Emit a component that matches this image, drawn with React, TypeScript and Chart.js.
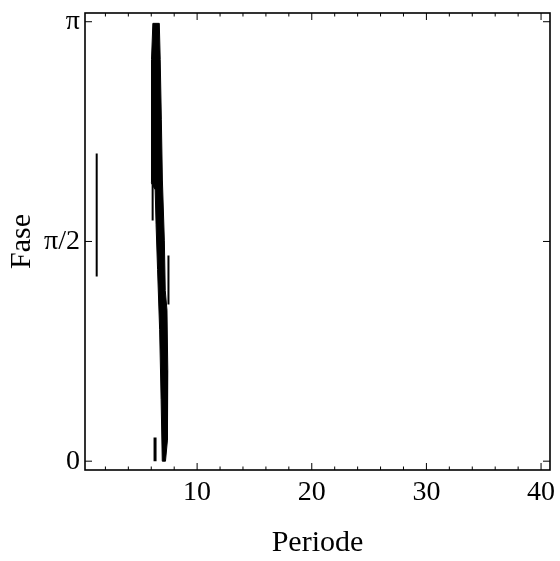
import { useEffect, useRef } from "react";
import { Chart, registerables } from "chart.js";

Chart.register(...registerables);

// Axis ranges and ticks
const periodMin = 0.22;
const periodMax = 40.78;
const phaseMin = -0.063;
const phaseMax = 3.204;
const periodTicks = [10, 20, 30, 40];
const periodMinorStep = 2;
const phaseTicks = [0, Math.PI / 2, Math.PI];
const phaseTickLabels = ["0", "π/2", "π"];

// Main band outline: right edge going down, then left edge going back up
const bandPeriod = [6.14, 6.70, 6.78, 6.88, 6.97, 7.14, 7.22, 7.37, 7.44, 7.41, 7.24, 6.96, 6.86, 6.73, 6.55, 6.42, 6.34, 6.00, 5.98, 6.06, 6.14];
const bandPhase = [3.13, 3.13, 2.87, 2.44, 2.01, 1.58, 1.22, 1.08, 0.65, 0.15, 0.0, 0.0, 0.44, 0.94, 1.37, 1.69, 1.94, 1.99, 2.44, 2.87, 3.13];

// Thin branches
const branchLeftPeriod = [6.12, 6.12];
const branchLeftPhase = [1.98, 1.72];
const branchRightPeriod = [7.5, 7.5];
const branchRightPhase = [1.47, 1.12];
const branchLowPeriod = [6.33, 6.33];
const branchLowPhase = [0.17, 0.0];
const shortPeriod = [1.24, 1.24];
const shortPhase = [2.2, 1.32];

const toPoints = (xs: number[], ys: number[]) => xs.map((x, i) => ({ x, y: ys[i] }));

const FONT = "'Liberation Serif', 'Times New Roman', serif";

const framePlugin = {
  id: "frameTicks",
  afterDatasetsDraw(chart: any) {
    const { ctx, chartArea } = chart;
    const xs = chart.scales.x;
    const ys = chart.scales.y;
    const { left, right, top, bottom } = chartArea;
    ctx.save();
    ctx.strokeStyle = "#000";
    ctx.lineWidth = 1.6;
    ctx.strokeRect(left, top, right - left, bottom - top);
    ctx.lineWidth = 1;
    ctx.beginPath();
    for (let v = periodMinorStep; v < periodMax; v += periodMinorStep) {
      const px = xs.getPixelForValue(v);
      const len = periodTicks.includes(v) ? 7 : 3.5;
      ctx.moveTo(px, bottom);
      ctx.lineTo(px, bottom - len);
      ctx.moveTo(px, top);
      ctx.lineTo(px, top + len);
    }
    for (const v of phaseTicks) {
      const py = ys.getPixelForValue(v);
      ctx.moveTo(left, py);
      ctx.lineTo(left + 7, py);
      ctx.moveTo(right, py);
      ctx.lineTo(right - 7, py);
    }
    ctx.stroke();
    ctx.restore();
  },
};

export default function App() {
  const canvasRef = useRef<HTMLCanvasElement | null>(null);

  useEffect(() => {
    if (!canvasRef.current) return;
    const lineSet = (data: { x: number; y: number }[], width: number) => ({
      data,
      showLine: true,
      borderColor: "#000",
      borderWidth: width,
      pointRadius: 0,
      fill: false,
    });
    const chart = new Chart(canvasRef.current, {
      type: "scatter",
      data: {
        datasets: [
          {
            data: toPoints(bandPeriod, bandPhase),
            showLine: true,
            borderColor: "#000",
            backgroundColor: "#000",
            borderWidth: 1,
            pointRadius: 0,
            fill: "shape",
          } as any,
          lineSet(toPoints(branchLeftPeriod, branchLeftPhase), 2),
          lineSet(toPoints(branchRightPeriod, branchRightPhase), 2),
          lineSet(toPoints(branchLowPeriod, branchLowPhase), 3),
          lineSet(toPoints(shortPeriod, shortPhase), 2),
        ],
      },
      options: {
        animation: false,
        responsive: false,
        layout: { padding: { top: 13, right: 10, left: 0, bottom: 0 } },
        plugins: { legend: { display: false }, tooltip: { enabled: false } },
        scales: {
          x: {
            type: "linear",
            min: periodMin,
            max: periodMax,
            afterBuildTicks: (s: any) => {
              s.ticks = periodTicks.map((v) => ({ value: v }));
            },
            afterFit: (s: any) => {
              s.height = 91;
              s.paddingLeft = 0;
              s.paddingRight = 0;
            },
            grid: { display: false, drawTicks: false },
            border: { display: false },
            ticks: {
              color: "#000",
              padding: 6,
              maxRotation: 0,
              font: { family: FONT, size: 28 },
              callback: (v: any) => String(v),
            },
            title: {
              display: true,
              text: "Periode",
              color: "#000",
              padding: { top: 0, bottom: 0 },
              font: { family: FONT, size: 30 },
            },
          },
          y: {
            type: "linear",
            min: phaseMin,
            max: phaseMax,
            afterBuildTicks: (s: any) => {
              s.ticks = phaseTicks.map((v) => ({ value: v }));
            },
            afterFit: (s: any) => {
              s.width = 85;
              s.paddingTop = 0;
              s.paddingBottom = 0;
            },
            grid: { display: false, drawTicks: false },
            border: { display: false },
            ticks: {
              color: "#000",
              padding: 5,
              font: { family: FONT, size: 28 },
              callback: (_v: any, i: number) => phaseTickLabels[i],
            },
            title: {
              display: true,
              text: "Fase",
              color: "#000",
              padding: { top: 4, bottom: 0 },
              font: { family: FONT, size: 30 },
            },
          },
        },
      },
      plugins: [framePlugin],
    });
    return () => chart.destroy();
  }, []);

  return (
    <div style={{ position: "fixed", left: 0, top: 0, width: 560, height: 561, background: "#fff" }}>
      <canvas ref={canvasRef} width={560} height={561} style={{ display: "block" }} />
    </div>
  );
}
